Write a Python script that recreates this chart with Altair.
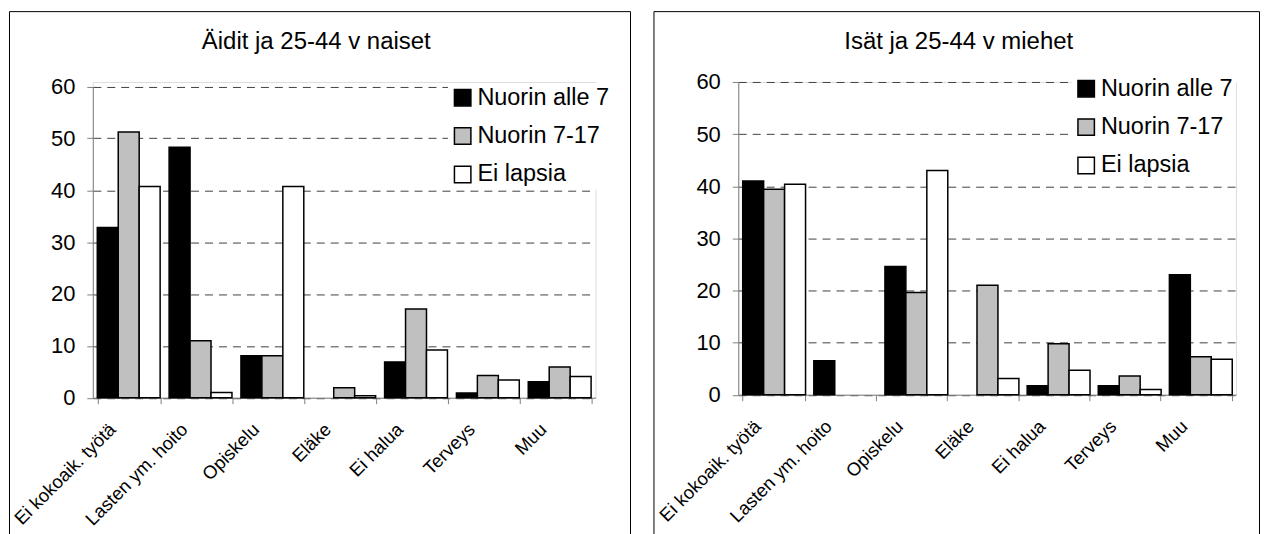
import altair as alt
import pandas as pd

categories = ["Ei kokoaik. työtä", "Lasten ym. hoito", "Opiskelu", "Eläke",
              "Ei halua", "Terveys", "Muu"]
series = ["Nuorin alle 7", "Nuorin 7-17", "Ei lapsia"]
series_colors = ["black", "#c0c0c0", "white"]

women_alle7 = [32.8, 48.3, 8.1, 0.0, 6.9, 0.9, 3.1]
women_7_17 = [51.2, 11.0, 8.1, 1.9, 17.1, 4.3, 5.9]
women_none = [40.7, 1.0, 40.7, 0.4, 9.2, 3.4, 4.1]

men_alle7 = [41.0, 6.5, 24.6, 0.0, 1.7, 1.7, 23.0]
men_7_17 = [39.4, 0.0, 19.6, 21.0, 9.8, 3.6, 7.3]
men_none = [40.4, 0.0, 43.0, 3.1, 4.7, 1.0, 6.8]

panel_titles = ["Äidit ja 25-44 v naiset", "Isät ja 25-44 v miehet"]
y_ticks = [0, 10, 20, 30, 40, 50, 60]

FONT = "Liberation Sans"


def long_table(lists):
    rows = []
    for s, vals in zip(series, lists):
        for c, v in zip(categories, vals):
            rows.append({"cat": c, "series": s, "v": v})
    return pd.DataFrame(rows)


def panel(df, title, w, h, y_range, frame, title_xy, legend_xy):
    bars = (
        alt.Chart(df)
        .transform_filter("datum.v > 0")
        .mark_bar(stroke="black", strokeWidth=1.5)
        .encode(
            x=alt.X(
                "cat:N",
                scale=alt.Scale(domain=categories, paddingInner=0.125, paddingOuter=0.0625),
                axis=alt.Axis(
                    title=None, labelAngle=-45, labelFontSize=18.5, labelFont=FONT,
                    labelColor="black", tickBand="extent", tickSize=6,
                    tickColor="#808080", domainColor="#808080", labelPadding=16,
                    labelOffset=-23, grid=False,
                ),
            ),
            xOffset=alt.XOffset(
                "series:N",
                scale=alt.Scale(domain=series, paddingInner=0, paddingOuter=0),
            ),
            y=alt.Y(
                "v:Q",
                scale=alt.Scale(domain=[0, 60], nice=False, range=y_range),
                axis=alt.Axis(
                    values=y_ticks, title=None, grid=True, gridDash=[8, 6],
                    gridColor="#404040", gridWidth=1, domainColor="#808080",
                    tickColor="#808080", tickSize=6, labelFontSize=22,
                    labelFont=FONT, labelColor="black", labelPadding=12,
                ),
            ),
            color=alt.Color(
                "series:N",
                scale=alt.Scale(domain=series, range=series_colors),
                legend=alt.Legend(
                    orient="none", legendX=legend_xy[0], legendY=legend_xy[1],
                    title=None, symbolType="square", symbolSize=272,
                    symbolStrokeColor="black", symbolStrokeWidth=1.5,
                    labelFontSize=23.5, labelFont=FONT, labelColor="black",
                    rowPadding=13.5, labelOffset=3, padding=3, fillColor="white",
                ),
            ),
        )
    )
    fdata = alt.Data(values=[{"t": title}])
    fl, fr, ft, fb = frame
    left = alt.Chart(fdata).mark_rule(color="black", strokeWidth=1).encode(
        x=alt.value(fl), y=alt.value(ft), y2=alt.value(fb))
    right = alt.Chart(fdata).mark_rule(color="black", strokeWidth=1).encode(
        x=alt.value(fr), y=alt.value(ft), y2=alt.value(fb))
    top = alt.Chart(fdata).mark_rule(color="black", strokeWidth=1).encode(
        x=alt.value(fl), x2=alt.value(fr), y=alt.value(ft))
    ttl = alt.Chart(fdata).mark_text(
        font=FONT, fontSize=24, align="center", baseline="middle", color="black"
    ).encode(x=alt.value(title_xy[0]), y=alt.value(title_xy[1]), text="t:N")
    return alt.layer(bars, left, right, top, ttl).properties(width=w, height=h)


women = long_table([women_alle7, women_7_17, women_none])
men = long_table([men_alle7, men_7_17, men_none])

# both plot areas start at page y 80.5
p1 = panel(women, panel_titles[0], 504, 316.5, [316.5, 4.5],
           (-83.5, 539, -70.5, 459.5), (224, -40.5), (356, 1))
p2 = panel(men, panel_titles[1], 499, 313.5, [313.5, 0],
           (-84.5, 522.5, -70.5, 459.5), (221, -40.5), (334, -8))

chart = (
    alt.hconcat(p1, p2, spacing=21)
    .resolve_scale(x="independent", y="independent", color="independent")
    .resolve_legend(color="independent")
    .properties(padding={"left": 0, "top": 1.5, "right": 0, "bottom": 0})
    .configure_view(stroke=None)
    .configure(font=FONT)
)

chart.save("out.html", embed_options={"renderer": "svg", "actions": False})
